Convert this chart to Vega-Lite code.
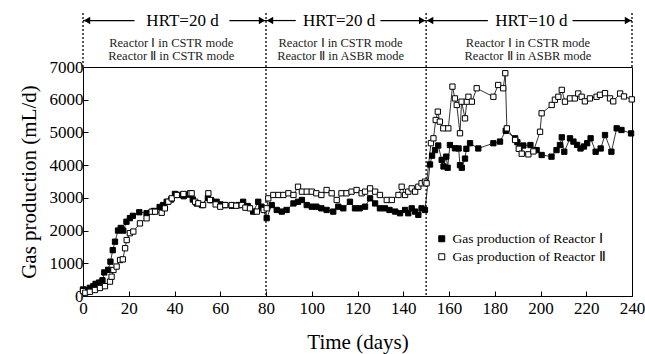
{
  "$schema": "https://vega.github.io/schema/vega-lite/v6.json",
  "width": 549,
  "height": 229,
  "autosize": {"type": "none"},
  "padding": {"left": 83, "top": 67, "right": 13, "bottom": 58},
  "background": "white",
  "config": {
    "view": {"stroke": "black", "strokeWidth": 1},
    "font": "Liberation Serif",
    "axis": {"titleFontWeight": 400, "labelFont": "Liberation Serif", "titleFont": "Liberation Serif"},
    "text": {"font": "Liberation Serif", "color": "black"}
  },
  "datasets": {
    "gas": [
      {"x": 0, "y": 200, "s": "Gas production of Reactor Ⅰ"},
      {"x": 1.5, "y": 190, "s": "Gas production of Reactor Ⅰ"},
      {"x": 3, "y": 250, "s": "Gas production of Reactor Ⅰ"},
      {"x": 4.5, "y": 300, "s": "Gas production of Reactor Ⅰ"},
      {"x": 5.5, "y": 370, "s": "Gas production of Reactor Ⅰ"},
      {"x": 7, "y": 410, "s": "Gas production of Reactor Ⅰ"},
      {"x": 8.5, "y": 480, "s": "Gas production of Reactor Ⅰ"},
      {"x": 9.3, "y": 720, "s": "Gas production of Reactor Ⅰ"},
      {"x": 11, "y": 800, "s": "Gas production of Reactor Ⅰ"},
      {"x": 12, "y": 1050, "s": "Gas production of Reactor Ⅰ"},
      {"x": 13, "y": 1400, "s": "Gas production of Reactor Ⅰ"},
      {"x": 14, "y": 1660, "s": "Gas production of Reactor Ⅰ"},
      {"x": 15.3, "y": 2000, "s": "Gas production of Reactor Ⅰ"},
      {"x": 16.5, "y": 2080, "s": "Gas production of Reactor Ⅰ"},
      {"x": 17.6, "y": 2000, "s": "Gas production of Reactor Ⅰ"},
      {"x": 19, "y": 2270, "s": "Gas production of Reactor Ⅰ"},
      {"x": 20.5, "y": 2380, "s": "Gas production of Reactor Ⅰ"},
      {"x": 21.8, "y": 2450, "s": "Gas production of Reactor Ⅰ"},
      {"x": 24.6, "y": 2560, "s": "Gas production of Reactor Ⅰ"},
      {"x": 27.8, "y": 2530, "s": "Gas production of Reactor Ⅰ"},
      {"x": 31, "y": 2600, "s": "Gas production of Reactor Ⅰ"},
      {"x": 33.5, "y": 2720, "s": "Gas production of Reactor Ⅰ"},
      {"x": 35, "y": 2780, "s": "Gas production of Reactor Ⅰ"},
      {"x": 36.6, "y": 2880, "s": "Gas production of Reactor Ⅰ"},
      {"x": 38.5, "y": 2950, "s": "Gas production of Reactor Ⅰ"},
      {"x": 40.2, "y": 3120, "s": "Gas production of Reactor Ⅰ"},
      {"x": 41.7, "y": 3090, "s": "Gas production of Reactor Ⅰ"},
      {"x": 44, "y": 3050, "s": "Gas production of Reactor Ⅰ"},
      {"x": 46, "y": 3100, "s": "Gas production of Reactor Ⅰ"},
      {"x": 48, "y": 2950, "s": "Gas production of Reactor Ⅰ"},
      {"x": 49.7, "y": 2830, "s": "Gas production of Reactor Ⅰ"},
      {"x": 52, "y": 2780, "s": "Gas production of Reactor Ⅰ"},
      {"x": 54.6, "y": 3000, "s": "Gas production of Reactor Ⅰ"},
      {"x": 56, "y": 2930, "s": "Gas production of Reactor Ⅰ"},
      {"x": 58.4, "y": 2880, "s": "Gas production of Reactor Ⅰ"},
      {"x": 60, "y": 2800, "s": "Gas production of Reactor Ⅰ"},
      {"x": 62, "y": 2780, "s": "Gas production of Reactor Ⅰ"},
      {"x": 65, "y": 2760, "s": "Gas production of Reactor Ⅰ"},
      {"x": 68, "y": 2780, "s": "Gas production of Reactor Ⅰ"},
      {"x": 70, "y": 2880, "s": "Gas production of Reactor Ⅰ"},
      {"x": 72, "y": 2750, "s": "Gas production of Reactor Ⅰ"},
      {"x": 74.4, "y": 2580, "s": "Gas production of Reactor Ⅰ"},
      {"x": 76.6, "y": 2880, "s": "Gas production of Reactor Ⅰ"},
      {"x": 78, "y": 2730, "s": "Gas production of Reactor Ⅰ"},
      {"x": 80.3, "y": 2380, "s": "Gas production of Reactor Ⅰ"},
      {"x": 82.5, "y": 2780, "s": "Gas production of Reactor Ⅰ"},
      {"x": 84.7, "y": 2630, "s": "Gas production of Reactor Ⅰ"},
      {"x": 86.9, "y": 2580, "s": "Gas production of Reactor Ⅰ"},
      {"x": 89, "y": 2630, "s": "Gas production of Reactor Ⅰ"},
      {"x": 92, "y": 2830, "s": "Gas production of Reactor Ⅰ"},
      {"x": 94, "y": 2880, "s": "Gas production of Reactor Ⅰ"},
      {"x": 95.7, "y": 2935, "s": "Gas production of Reactor Ⅰ"},
      {"x": 97.8, "y": 2780, "s": "Gas production of Reactor Ⅰ"},
      {"x": 100, "y": 2730, "s": "Gas production of Reactor Ⅰ"},
      {"x": 102, "y": 2730, "s": "Gas production of Reactor Ⅰ"},
      {"x": 104.2, "y": 2680, "s": "Gas production of Reactor Ⅰ"},
      {"x": 106.5, "y": 2630, "s": "Gas production of Reactor Ⅰ"},
      {"x": 109.4, "y": 2580, "s": "Gas production of Reactor Ⅰ"},
      {"x": 111.6, "y": 2730, "s": "Gas production of Reactor Ⅰ"},
      {"x": 113.8, "y": 2680, "s": "Gas production of Reactor Ⅰ"},
      {"x": 116.7, "y": 2880, "s": "Gas production of Reactor Ⅰ"},
      {"x": 118.9, "y": 2680, "s": "Gas production of Reactor Ⅰ"},
      {"x": 121, "y": 2680, "s": "Gas production of Reactor Ⅰ"},
      {"x": 123.3, "y": 2730, "s": "Gas production of Reactor Ⅰ"},
      {"x": 125.5, "y": 2985, "s": "Gas production of Reactor Ⅰ"},
      {"x": 127.7, "y": 2830, "s": "Gas production of Reactor Ⅰ"},
      {"x": 129.8, "y": 2680, "s": "Gas production of Reactor Ⅰ"},
      {"x": 132, "y": 2680, "s": "Gas production of Reactor Ⅰ"},
      {"x": 134, "y": 2630, "s": "Gas production of Reactor Ⅰ"},
      {"x": 136.5, "y": 2580, "s": "Gas production of Reactor Ⅰ"},
      {"x": 138.6, "y": 2530, "s": "Gas production of Reactor Ⅰ"},
      {"x": 140.8, "y": 2630, "s": "Gas production of Reactor Ⅰ"},
      {"x": 142.2, "y": 2530, "s": "Gas production of Reactor Ⅰ"},
      {"x": 143.7, "y": 2680, "s": "Gas production of Reactor Ⅰ"},
      {"x": 145.2, "y": 2580, "s": "Gas production of Reactor Ⅰ"},
      {"x": 146.6, "y": 2480, "s": "Gas production of Reactor Ⅰ"},
      {"x": 148, "y": 2680, "s": "Gas production of Reactor Ⅰ"},
      {"x": 149.5, "y": 2630, "s": "Gas production of Reactor Ⅰ"},
      {"x": 151.7, "y": 4020, "s": "Gas production of Reactor Ⅰ"},
      {"x": 152.6, "y": 4290, "s": "Gas production of Reactor Ⅰ"},
      {"x": 153.9, "y": 4460, "s": "Gas production of Reactor Ⅰ"},
      {"x": 155.3, "y": 4600, "s": "Gas production of Reactor Ⅰ"},
      {"x": 156.8, "y": 4160, "s": "Gas production of Reactor Ⅰ"},
      {"x": 157.6, "y": 3960, "s": "Gas production of Reactor Ⅰ"},
      {"x": 158.8, "y": 4260, "s": "Gas production of Reactor Ⅰ"},
      {"x": 159.4, "y": 3920, "s": "Gas production of Reactor Ⅰ"},
      {"x": 160.4, "y": 4615, "s": "Gas production of Reactor Ⅰ"},
      {"x": 162.6, "y": 4515, "s": "Gas production of Reactor Ⅰ"},
      {"x": 164.2, "y": 4510, "s": "Gas production of Reactor Ⅰ"},
      {"x": 164.8, "y": 4000, "s": "Gas production of Reactor Ⅰ"},
      {"x": 165.6, "y": 3920, "s": "Gas production of Reactor Ⅰ"},
      {"x": 167, "y": 4200, "s": "Gas production of Reactor Ⅰ"},
      {"x": 167.6, "y": 4500, "s": "Gas production of Reactor Ⅰ"},
      {"x": 169.2, "y": 4670, "s": "Gas production of Reactor Ⅰ"},
      {"x": 172.8, "y": 4510, "s": "Gas production of Reactor Ⅰ"},
      {"x": 179.4, "y": 4670, "s": "Gas production of Reactor Ⅰ"},
      {"x": 182.3, "y": 4720, "s": "Gas production of Reactor Ⅰ"},
      {"x": 184.8, "y": 5050, "s": "Gas production of Reactor Ⅰ"},
      {"x": 188.9, "y": 4820, "s": "Gas production of Reactor Ⅰ"},
      {"x": 189.9, "y": 4700, "s": "Gas production of Reactor Ⅰ"},
      {"x": 190.8, "y": 4510, "s": "Gas production of Reactor Ⅰ"},
      {"x": 192.5, "y": 4600, "s": "Gas production of Reactor Ⅰ"},
      {"x": 195.6, "y": 4615, "s": "Gas production of Reactor Ⅰ"},
      {"x": 198.3, "y": 4460, "s": "Gas production of Reactor Ⅰ"},
      {"x": 200.5, "y": 4310, "s": "Gas production of Reactor Ⅰ"},
      {"x": 204.8, "y": 4260, "s": "Gas production of Reactor Ⅰ"},
      {"x": 207, "y": 4460, "s": "Gas production of Reactor Ⅰ"},
      {"x": 208.5, "y": 4615, "s": "Gas production of Reactor Ⅰ"},
      {"x": 209.3, "y": 4850, "s": "Gas production of Reactor Ⅰ"},
      {"x": 210.4, "y": 4410, "s": "Gas production of Reactor Ⅰ"},
      {"x": 212.9, "y": 4820, "s": "Gas production of Reactor Ⅰ"},
      {"x": 214.4, "y": 4720, "s": "Gas production of Reactor Ⅰ"},
      {"x": 216, "y": 4620, "s": "Gas production of Reactor Ⅰ"},
      {"x": 217.5, "y": 4510, "s": "Gas production of Reactor Ⅰ"},
      {"x": 219, "y": 4570, "s": "Gas production of Reactor Ⅰ"},
      {"x": 220.4, "y": 4670, "s": "Gas production of Reactor Ⅰ"},
      {"x": 221.9, "y": 4820, "s": "Gas production of Reactor Ⅰ"},
      {"x": 224.1, "y": 4410, "s": "Gas production of Reactor Ⅰ"},
      {"x": 226.3, "y": 4510, "s": "Gas production of Reactor Ⅰ"},
      {"x": 228.2, "y": 4920, "s": "Gas production of Reactor Ⅰ"},
      {"x": 231, "y": 4410, "s": "Gas production of Reactor Ⅰ"},
      {"x": 233.3, "y": 5125, "s": "Gas production of Reactor Ⅰ"},
      {"x": 235.4, "y": 5075, "s": "Gas production of Reactor Ⅰ"},
      {"x": 239.6, "y": 4970, "s": "Gas production of Reactor Ⅰ"},
      {"x": 0, "y": 150, "s": "Gas production of Reactor Ⅱ"},
      {"x": 1, "y": 100, "s": "Gas production of Reactor Ⅱ"},
      {"x": 3, "y": 130, "s": "Gas production of Reactor Ⅱ"},
      {"x": 5.2, "y": 183, "s": "Gas production of Reactor Ⅱ"},
      {"x": 7.4, "y": 245, "s": "Gas production of Reactor Ⅱ"},
      {"x": 9.6, "y": 300, "s": "Gas production of Reactor Ⅱ"},
      {"x": 11.8, "y": 440, "s": "Gas production of Reactor Ⅱ"},
      {"x": 12.5, "y": 590, "s": "Gas production of Reactor Ⅱ"},
      {"x": 13.3, "y": 795, "s": "Gas production of Reactor Ⅱ"},
      {"x": 14.7, "y": 900, "s": "Gas production of Reactor Ⅱ"},
      {"x": 16.2, "y": 1100, "s": "Gas production of Reactor Ⅱ"},
      {"x": 17.4, "y": 1120, "s": "Gas production of Reactor Ⅱ"},
      {"x": 18.4, "y": 1460, "s": "Gas production of Reactor Ⅱ"},
      {"x": 19.1, "y": 1710, "s": "Gas production of Reactor Ⅱ"},
      {"x": 20.5, "y": 1920, "s": "Gas production of Reactor Ⅱ"},
      {"x": 22, "y": 1970, "s": "Gas production of Reactor Ⅱ"},
      {"x": 24.9, "y": 2220, "s": "Gas production of Reactor Ⅱ"},
      {"x": 27.8, "y": 2375, "s": "Gas production of Reactor Ⅱ"},
      {"x": 30, "y": 2577, "s": "Gas production of Reactor Ⅱ"},
      {"x": 31.5, "y": 2577, "s": "Gas production of Reactor Ⅱ"},
      {"x": 34.4, "y": 2545, "s": "Gas production of Reactor Ⅱ"},
      {"x": 35.8, "y": 2680, "s": "Gas production of Reactor Ⅱ"},
      {"x": 37.3, "y": 2883, "s": "Gas production of Reactor Ⅱ"},
      {"x": 38.8, "y": 2985, "s": "Gas production of Reactor Ⅱ"},
      {"x": 41, "y": 3088, "s": "Gas production of Reactor Ⅱ"},
      {"x": 43.9, "y": 3118, "s": "Gas production of Reactor Ⅱ"},
      {"x": 46.8, "y": 3140, "s": "Gas production of Reactor Ⅱ"},
      {"x": 47.5, "y": 3140, "s": "Gas production of Reactor Ⅱ"},
      {"x": 49, "y": 2883, "s": "Gas production of Reactor Ⅱ"},
      {"x": 50.4, "y": 2833, "s": "Gas production of Reactor Ⅱ"},
      {"x": 52.5, "y": 2780, "s": "Gas production of Reactor Ⅱ"},
      {"x": 54.8, "y": 3140, "s": "Gas production of Reactor Ⅱ"},
      {"x": 55.5, "y": 2935, "s": "Gas production of Reactor Ⅱ"},
      {"x": 58, "y": 2800, "s": "Gas production of Reactor Ⅱ"},
      {"x": 60, "y": 2730, "s": "Gas production of Reactor Ⅱ"},
      {"x": 62.2, "y": 2780, "s": "Gas production of Reactor Ⅱ"},
      {"x": 65, "y": 2780, "s": "Gas production of Reactor Ⅱ"},
      {"x": 67, "y": 2760, "s": "Gas production of Reactor Ⅱ"},
      {"x": 69.4, "y": 2780, "s": "Gas production of Reactor Ⅱ"},
      {"x": 71, "y": 2700, "s": "Gas production of Reactor Ⅱ"},
      {"x": 73, "y": 2680, "s": "Gas production of Reactor Ⅱ"},
      {"x": 76, "y": 2580, "s": "Gas production of Reactor Ⅱ"},
      {"x": 79, "y": 2630, "s": "Gas production of Reactor Ⅱ"},
      {"x": 80.3, "y": 2680, "s": "Gas production of Reactor Ⅱ"},
      {"x": 81, "y": 2985, "s": "Gas production of Reactor Ⅱ"},
      {"x": 83.2, "y": 3088, "s": "Gas production of Reactor Ⅱ"},
      {"x": 85.4, "y": 3088, "s": "Gas production of Reactor Ⅱ"},
      {"x": 87.6, "y": 3088, "s": "Gas production of Reactor Ⅱ"},
      {"x": 89.8, "y": 3140, "s": "Gas production of Reactor Ⅱ"},
      {"x": 92, "y": 3088, "s": "Gas production of Reactor Ⅱ"},
      {"x": 94, "y": 3340, "s": "Gas production of Reactor Ⅱ"},
      {"x": 95.7, "y": 3190, "s": "Gas production of Reactor Ⅱ"},
      {"x": 97.8, "y": 3190, "s": "Gas production of Reactor Ⅱ"},
      {"x": 100, "y": 3190, "s": "Gas production of Reactor Ⅱ"},
      {"x": 102, "y": 3140, "s": "Gas production of Reactor Ⅱ"},
      {"x": 104.2, "y": 3088, "s": "Gas production of Reactor Ⅱ"},
      {"x": 106.5, "y": 3240, "s": "Gas production of Reactor Ⅱ"},
      {"x": 108.7, "y": 3140, "s": "Gas production of Reactor Ⅱ"},
      {"x": 110.9, "y": 2935, "s": "Gas production of Reactor Ⅱ"},
      {"x": 113, "y": 3140, "s": "Gas production of Reactor Ⅱ"},
      {"x": 115.2, "y": 3140, "s": "Gas production of Reactor Ⅱ"},
      {"x": 117.4, "y": 3190, "s": "Gas production of Reactor Ⅱ"},
      {"x": 119.6, "y": 3240, "s": "Gas production of Reactor Ⅱ"},
      {"x": 121.8, "y": 3140, "s": "Gas production of Reactor Ⅱ"},
      {"x": 123.3, "y": 3190, "s": "Gas production of Reactor Ⅱ"},
      {"x": 125.5, "y": 3290, "s": "Gas production of Reactor Ⅱ"},
      {"x": 127.7, "y": 3190, "s": "Gas production of Reactor Ⅱ"},
      {"x": 129.8, "y": 3088, "s": "Gas production of Reactor Ⅱ"},
      {"x": 132.8, "y": 2935, "s": "Gas production of Reactor Ⅱ"},
      {"x": 135, "y": 2935, "s": "Gas production of Reactor Ⅱ"},
      {"x": 137.9, "y": 3088, "s": "Gas production of Reactor Ⅱ"},
      {"x": 139.3, "y": 3340, "s": "Gas production of Reactor Ⅱ"},
      {"x": 140.8, "y": 3088, "s": "Gas production of Reactor Ⅱ"},
      {"x": 142.2, "y": 3190, "s": "Gas production of Reactor Ⅱ"},
      {"x": 143.7, "y": 3290, "s": "Gas production of Reactor Ⅱ"},
      {"x": 145.2, "y": 3190, "s": "Gas production of Reactor Ⅱ"},
      {"x": 146.6, "y": 3340, "s": "Gas production of Reactor Ⅱ"},
      {"x": 148, "y": 3445, "s": "Gas production of Reactor Ⅱ"},
      {"x": 149.5, "y": 3495, "s": "Gas production of Reactor Ⅱ"},
      {"x": 150.2, "y": 3445, "s": "Gas production of Reactor Ⅱ"},
      {"x": 152.1, "y": 4670, "s": "Gas production of Reactor Ⅱ"},
      {"x": 153.2, "y": 4820, "s": "Gas production of Reactor Ⅱ"},
      {"x": 154.2, "y": 5380, "s": "Gas production of Reactor Ⅱ"},
      {"x": 155.1, "y": 5635, "s": "Gas production of Reactor Ⅱ"},
      {"x": 156, "y": 5330, "s": "Gas production of Reactor Ⅱ"},
      {"x": 157.5, "y": 5125, "s": "Gas production of Reactor Ⅱ"},
      {"x": 159.7, "y": 5125, "s": "Gas production of Reactor Ⅱ"},
      {"x": 161.5, "y": 6400, "s": "Gas production of Reactor Ⅱ"},
      {"x": 162.6, "y": 6040, "s": "Gas production of Reactor Ⅱ"},
      {"x": 163.4, "y": 5840, "s": "Gas production of Reactor Ⅱ"},
      {"x": 164.8, "y": 4975, "s": "Gas production of Reactor Ⅱ"},
      {"x": 165.5, "y": 5940, "s": "Gas production of Reactor Ⅱ"},
      {"x": 167, "y": 5430, "s": "Gas production of Reactor Ⅱ"},
      {"x": 167.8, "y": 5940, "s": "Gas production of Reactor Ⅱ"},
      {"x": 168.5, "y": 6090, "s": "Gas production of Reactor Ⅱ"},
      {"x": 170, "y": 5940, "s": "Gas production of Reactor Ⅱ"},
      {"x": 172.1, "y": 6350, "s": "Gas production of Reactor Ⅱ"},
      {"x": 179.4, "y": 6090, "s": "Gas production of Reactor Ⅱ"},
      {"x": 181.5, "y": 6450, "s": "Gas production of Reactor Ⅱ"},
      {"x": 183.7, "y": 6350, "s": "Gas production of Reactor Ⅱ"},
      {"x": 184.6, "y": 6810, "s": "Gas production of Reactor Ⅱ"},
      {"x": 185.3, "y": 5125, "s": "Gas production of Reactor Ⅱ"},
      {"x": 188.9, "y": 4770, "s": "Gas production of Reactor Ⅱ"},
      {"x": 190.5, "y": 4500, "s": "Gas production of Reactor Ⅱ"},
      {"x": 191.8, "y": 4350, "s": "Gas production of Reactor Ⅱ"},
      {"x": 194.7, "y": 4330, "s": "Gas production of Reactor Ⅱ"},
      {"x": 196.9, "y": 4420, "s": "Gas production of Reactor Ⅱ"},
      {"x": 199.8, "y": 5020, "s": "Gas production of Reactor Ⅱ"},
      {"x": 200.5, "y": 5585, "s": "Gas production of Reactor Ⅱ"},
      {"x": 204.9, "y": 5840, "s": "Gas production of Reactor Ⅱ"},
      {"x": 206.3, "y": 6000, "s": "Gas production of Reactor Ⅱ"},
      {"x": 207.8, "y": 6090, "s": "Gas production of Reactor Ⅱ"},
      {"x": 209.3, "y": 6300, "s": "Gas production of Reactor Ⅱ"},
      {"x": 210.7, "y": 5940, "s": "Gas production of Reactor Ⅱ"},
      {"x": 212.9, "y": 6040, "s": "Gas production of Reactor Ⅱ"},
      {"x": 215, "y": 6040, "s": "Gas production of Reactor Ⅱ"},
      {"x": 216.5, "y": 6190, "s": "Gas production of Reactor Ⅱ"},
      {"x": 218, "y": 6090, "s": "Gas production of Reactor Ⅱ"},
      {"x": 219.4, "y": 5950, "s": "Gas production of Reactor Ⅱ"},
      {"x": 221.6, "y": 6040, "s": "Gas production of Reactor Ⅱ"},
      {"x": 224.5, "y": 6090, "s": "Gas production of Reactor Ⅱ"},
      {"x": 226, "y": 6150, "s": "Gas production of Reactor Ⅱ"},
      {"x": 228.2, "y": 6200, "s": "Gas production of Reactor Ⅱ"},
      {"x": 230.4, "y": 6040, "s": "Gas production of Reactor Ⅱ"},
      {"x": 231.8, "y": 5950, "s": "Gas production of Reactor Ⅱ"},
      {"x": 234.8, "y": 6190, "s": "Gas production of Reactor Ⅱ"},
      {"x": 236.5, "y": 6100, "s": "Gas production of Reactor Ⅱ"},
      {"x": 239.9, "y": 6010, "s": "Gas production of Reactor Ⅱ"}
    ],
    "vlines": [
      {"x": 0, "y": 8650, "y2": 7000},
      {"x": 80, "y": 8650, "y2": 0},
      {"x": 150, "y": 8650, "y2": 0},
      {"x": 240, "y": 8650, "y2": 7000}
    ],
    "arrows": [
      {"x": 0, "x2": 22.5, "y": 8420},
      {"x": 64, "x2": 80, "y": 8420},
      {"x": 80, "x2": 93, "y": 8420},
      {"x": 130, "x2": 150, "y": 8420},
      {"x": 150, "x2": 177, "y": 8420},
      {"x": 214, "x2": 240, "y": 8420}
    ],
    "heads": [
      {"x": 0, "y": 8420, "dir": "left"},
      {"x": 80, "y": 8420, "dir": "left"},
      {"x": 150, "y": 8420, "dir": "left"},
      {"x": 80, "y": 8420, "dir": "right"},
      {"x": 150, "y": 8420, "dir": "right"},
      {"x": 240, "y": 8420, "dir": "right"}
    ],
    "hrt": [
      {"x": 43.5, "y": 8420, "t": "HRT=20 d"},
      {"x": 112, "y": 8420, "t": "HRT=20 d"},
      {"x": 196, "y": 8420, "t": "HRT=10 d"}
    ],
    "modes": [
      {"x": 38.6, "y": 7720, "t": "Reactor Ⅰ  in CSTR mode"},
      {"x": 38.6, "y": 7330, "t": "Reactor Ⅱ  in  CSTR mode"},
      {"x": 112.6, "y": 7720, "t": "Reactor Ⅰ  in CSTR mode"},
      {"x": 112.6, "y": 7330, "t": "Reactor Ⅱ  in  ASBR mode"},
      {"x": 194.5, "y": 7720, "t": "Reactor Ⅰ  in CSTR mode"},
      {"x": 194.5, "y": 7330, "t": "Reactor Ⅱ  in  ASBR mode"}
    ]
  },
  "encoding": {
    "x": {
      "field": "x",
      "type": "quantitative",
      "scale": {"domain": [0, 240], "nice": false, "zero": false},
      "title": "Time (days)",
      "axis": {
        "values": [0, 20, 40, 60, 80, 100, 120, 140, 160, 180, 200, 220, 240],
        "grid": false,
        "tickSize": -5,
        "tickColor": "black",
        "domainColor": "black",
        "labelColor": "black",
        "titleColor": "black",
        "labelFont": "Liberation Serif",
        "titleFont": "Liberation Serif",
        "labelFontSize": 17,
        "titleFontSize": 21,
        "titleFontWeight": 400,
        "labelPadding": 9,
        "titlePadding": 15,
        "labelFlush": false,
        "labelOverlap": false
      }
    },
    "y": {
      "field": "y",
      "type": "quantitative",
      "scale": {"domain": [0, 7000], "nice": false, "zero": false},
      "title": "Gas production (mL/d)",
      "axis": {
        "values": [0, 1000, 2000, 3000, 4000, 5000, 6000, 7000],
        "format": "d",
        "grid": false,
        "tickSize": -5,
        "tickColor": "black",
        "domainColor": "black",
        "labelColor": "black",
        "titleColor": "black",
        "labelFont": "Liberation Serif",
        "titleFont": "Liberation Serif",
        "labelFontSize": 17,
        "titleFontSize": 21,
        "titleFontWeight": 400,
        "labelPadding": 5,
        "titlePadding": 10,
        "labelOverlap": false
      }
    }
  },
  "layer": [
    {
      "data": {"name": "vlines"},
      "mark": {"type": "rule", "color": "black", "strokeWidth": 1.3, "strokeDash": [2, 2]},
      "encoding": {"y2": {"field": "y2"}}
    },
    {
      "data": {"name": "arrows"},
      "mark": {"type": "rule", "color": "black", "strokeWidth": 1.2},
      "encoding": {"x2": {"field": "x2"}}
    },
    {
      "data": {"name": "heads"},
      "transform": [{"filter": "datum.dir === 'left'"}],
      "mark": {"type": "point", "shape": "triangle-left", "filled": true, "color": "black", "size": 55, "opacity": 1, "xOffset": 4},
      "encoding": {}
    },
    {
      "data": {"name": "heads"},
      "transform": [{"filter": "datum.dir === 'right'"}],
      "mark": {"type": "point", "shape": "triangle-right", "filled": true, "color": "black", "size": 55, "opacity": 1, "xOffset": -4},
      "encoding": {}
    },
    {
      "data": {"name": "hrt"},
      "mark": {"type": "text", "font": "Liberation Serif", "fontSize": 17, "color": "black", "baseline": "middle", "align": "center"},
      "encoding": {"text": {"field": "t"}}
    },
    {
      "data": {"name": "modes"},
      "mark": {"type": "text", "font": "Liberation Serif", "fontSize": 12.5, "color": "#222", "baseline": "middle", "align": "center"},
      "encoding": {"text": {"field": "t"}}
    },
    {
      "data": {"name": "gas"},
      "mark": {"type": "line", "color": "black", "strokeWidth": 0.8},
      "encoding": {"detail": {"field": "s"}, "order": {"field": "x", "type": "quantitative"}}
    },
    {
      "data": {"name": "gas"},
      "mark": {"type": "point", "shape": "square", "filled": true, "stroke": "black", "strokeWidth": 1, "size": 28, "opacity": 1},
      "encoding": {
        "fill": {
          "field": "s",
          "type": "nominal",
          "scale": {"domain": ["Gas production of Reactor Ⅰ", "Gas production of Reactor Ⅱ"], "range": ["black", "white"]},
          "legend": {
            "title": null,
            "orient": "none",
            "legendX": 352,
            "legendY": 165,
            "symbolType": "square",
            "symbolSize": 36,
            "symbolStrokeColor": "black",
            "symbolStrokeWidth": 1,
            "symbolOpacity": 1,
            "labelFont": "Liberation Serif",
            "labelFontSize": 13.5,
            "labelColor": "black",
            "rowPadding": 3,
            "labelLimit": 300
          }
        }
      }
    }
  ]
}
